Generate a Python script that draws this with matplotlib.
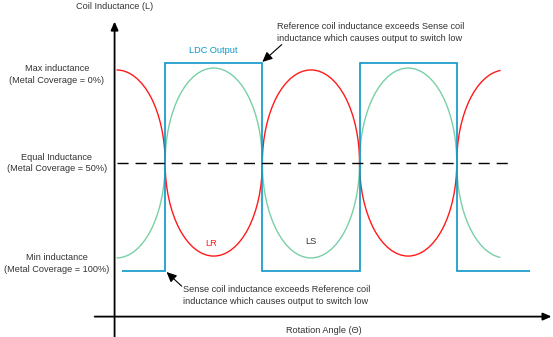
"""
LDC inductance comparison diagram: reference (LR) vs sense (LS) coil
inductance against rotation angle, with the resulting LDC output.
"""
import math

import matplotlib
matplotlib.use("Agg")
import matplotlib.pyplot as plt
from matplotlib.patches import Arc

plt.rcParams["font.family"] = ["Liberation Sans", "DejaVu Sans"]

# ── data (x in quarter-periods of rotation, y relative to equal inductance) ──
crossings   = [1, 3, 5, 7]            # angles where LR == LS
curve_end   = 7.9                     # last angle drawn
lr_peak     = 0.99                    # LR max / min level
ls_peak     = 1.01                    # LS max / min level
ldc_edges   = [0.11, 1, 3, 5, 7, 8.5]
ldc_levels  = [-1.15, 1.06, -1.15, 1.06, -1.15]
equal_level = 0.0
dash_span   = (0.0, 8.1)

RED   = "#ff1a1a"
TEAL  = "#78d0a6"
BLUE  = "#0a96c8"
GREY  = "#333333"

# ── figure: axes fill the figure, limits chosen so the diagram fits ─────────
fig = plt.figure(figsize=(5.53, 3.37), dpi=100)
ax = fig.add_axes([0, 0, 1, 1])
ax.set_xlim(-2.397, 8.98)
ax.set_ylim(-1.851, 1.734)
ax.axis("off")


def ellipse_arcs(centres, first_up, peak, color):
    # alternate half-ellipses between crossings; quarter arcs at both ends
    for i, c in enumerate(centres):
        up = (i % 2 == 0) == first_up
        t1, t2 = (0, 180) if up else (180, 360)
        if i == 0:
            t1, t2 = (0, 90) if up else (270, 360)
        elif i == len(centres) - 1:
            lim = math.degrees(math.acos(curve_end - c))
            t1, t2 = (lim, 180) if up else (180, 360 - lim)
        ax.add_patch(Arc((c, equal_level), 2, 2 * peak, theta1=t1, theta2=t2,
                         color=color, lw=1.0))


centres = [0] + [c + 1 for c in crossings]
ellipse_arcs(centres, True, lr_peak, RED)
ellipse_arcs(centres, False, ls_peak, TEAL)

# LDC output square wave
ax.stairs(ldc_levels, ldc_edges, baseline=None, color=BLUE, lw=1.2)

# equal inductance dashed line
ax.plot(dash_span, [equal_level, equal_level], color="black", lw=1.0,
        ls=(0, (8, 5)))

# axes with arrow heads
arrow = dict(arrowstyle="-|>,head_length=0.5,head_width=0.22",
             color="black", lw=1.3, shrinkA=0, shrinkB=0)
ax.annotate("", xy=(-0.04, 1.505), xytext=(-0.04, -1.851), arrowprops=arrow)
ax.annotate("", xy=(8.95, -1.634), xytext=(-0.45, -1.634), arrowprops=arrow)

fs = 6.6
ax.text(-0.04, 1.66, "Coil Inductance (L)", ha="center", va="center",
        fontsize=fs, color=GREY)
ax.text(4.27, -1.78, "Rotation Angle (\u0398)", ha="center", va="center",
        fontsize=fs, color=GREY)

left_x = -1.23
ax.text(left_x, 0.94, "Max inductance\n(Metal Coverage = 0%)", ha="center",
        va="center", fontsize=fs, color=GREY, linespacing=1.35)
ax.text(left_x, 0.0, "Equal Inductance\n(Metal Coverage = 50%)", ha="center",
        va="center", fontsize=fs, color=GREY, linespacing=1.35)
ax.text(left_x, -1.07, "Min inductance\n(Metal Coverage = 100%)", ha="center",
        va="center", fontsize=fs, color=GREY, linespacing=1.35)

ax.text(2.0, 1.20, "LDC Output", ha="center", va="center", fontsize=fs,
        color=BLUE)
ax.text(1.95, -0.86, "LR", ha="center", va="center", fontsize=fs, color=RED)
ax.text(4.0, -0.84, "LS", ha="center", va="center", fontsize=fs, color=GREY)

ann_arrow = dict(arrowstyle="-|>,head_length=0.6,head_width=0.28",
                 color="black", lw=0.8, shrinkA=0, shrinkB=0)
ax.text(3.3, 1.39, "Reference coil inductance exceeds Sense coil\n"
        "inductance which causes output to switch low", ha="left",
        va="center", fontsize=fs, color=GREY, linespacing=1.45)
ax.annotate("", xy=(3.0, 1.075), xytext=(3.4, 1.26), arrowprops=ann_arrow)

ax.annotate("", xy=(1.03, -1.16), xytext=(1.34, -1.31), arrowprops=ann_arrow)
ax.text(1.36, -1.41, "Sense coil inductance exceeds Reference coil\n"
        "inductance which causes output to switch low", ha="left",
        va="center", fontsize=fs, color=GREY, linespacing=1.35)

fig.savefig("out.png", dpi=100)
